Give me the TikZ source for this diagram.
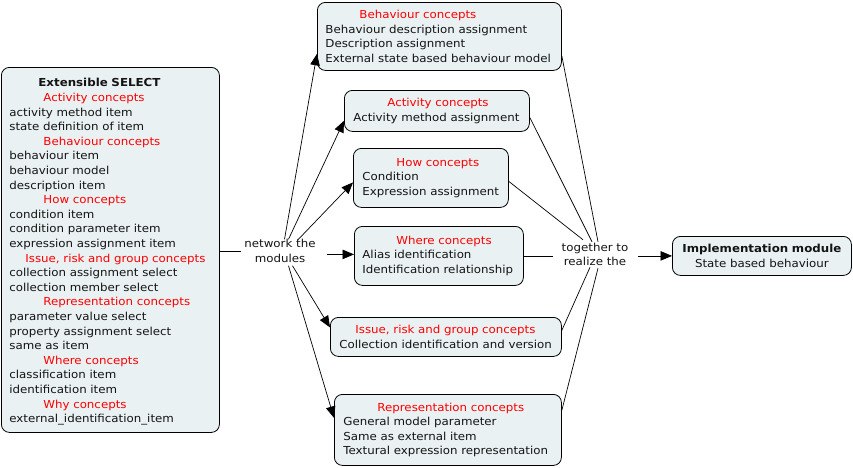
\documentclass[tikz,border=0pt]{standalone}
\usepackage{fontspec}
\setmainfont{DejaVu Sans}[FakeStretch=1.075]
\usetikzlibrary{arrows.meta}
\definecolor{boxfill}{RGB}{233,241,243}
\definecolor{headred}{RGB}{255,0,0}
\definecolor{txt}{RGB}{20,20,20}
\newcommand{\hd}[1]{\hspace*{34pt}\textcolor{headred}{#1}}
\newcommand{\hdi}[1]{\hspace*{16pt}\textcolor{headred}{#1}}
\begin{document}
\begin{tikzpicture}[x=1pt,y=-1pt,
  every node/.style={font=\fontsize{11}{14.6}\selectfont, text=txt},
  box/.style={draw=black, line width=0.8pt, fill=boxfill, rounded corners=8pt, anchor=north west, align=left, inner ysep=0pt},
  lbl/.style={align=center, inner sep=0pt},
  arr/.style={-{Triangle[length=11.5pt,width=9.5pt]}, line width=0.7pt},
  ln/.style={line width=0.7pt}]
\useasboundingbox (0,0) rectangle (853,467);

\node[box, minimum width=218pt, minimum height=365pt, text width=202pt, inner xsep=8pt] (sel) at (1,67) {%
\rule{0pt}{12.2pt}\hspace*{29pt}\textbf{Extensible SELECT}\\
\hd{Activity concepts}\\
activity method item\\
state definition of item\\
\hd{Behaviour concepts}\\
behaviour item\\
behaviour model\\
description item\\
\hd{How concepts}\\
condition item\\
condition parameter item\\
expression assignment item\\
\hdi{Issue, risk and group concepts}\\
collection assignment select\\
collection member select\\
\hd{Representation concepts}\\
parameter value select\\
property assignment select\\
same as item\\
\hd{Where concepts}\\
classification item\\
identification item\\
\hd{Why concepts}\\
external\_identification\_item};

\node[box, minimum width=244pt, minimum height=68pt, text width=228pt, inner xsep=8pt] (beh) at (317,2) {%
\hd{Behaviour concepts}\\
\mbox{Behaviour description assignment}\\
\mbox{Description assignment}\\
\mbox{External state based behaviour model}};

\node[box, minimum width=185pt, minimum height=41pt, text width=167pt, inner xsep=9pt] (act) at (344,90) {%
\hd{Activity concepts}\\
\mbox{Activity method assignment}};

\node[box, minimum width=155pt, minimum height=59pt, text width=137pt, inner xsep=9pt] (how) at (353,148) {%
\hd{How concepts}\\
Condition\\
\mbox{Expression assignment}};

\node[box, minimum width=169pt, minimum height=59pt, text width=153pt, inner xsep=8pt] (whr) at (354,226) {%
\hd{Where concepts}\\
\mbox{Alias identification}\\
\mbox{Identification relationship}};

\node[box, minimum width=231pt, minimum height=39pt, text width=213pt, inner xsep=9pt] (iss) at (330,317) {%
\hdi{Issue, risk and group concepts}\\
\mbox{Collection identification and version}};

\node[box, minimum width=227pt, minimum height=71pt, text width=209pt, inner xsep=9pt] (rep) at (334,394) {%
\hd{Representation concepts}\\
\mbox{General model parameter}\\
\mbox{Same as external item}\\
\mbox{Textural expression representation}};

\node[box, align=center, minimum width=179pt, minimum height=39pt, text width=171pt, inner xsep=4pt] (imp) at (672,236) {%
\textbf{Implementation module}\\
State based behaviour};

\node[lbl] (net) at (280,251) {network the\\modules};
\node[lbl] (tog) at (595,254.5) {together to\\realize the};

% connectors
\draw[ln] (sel.east |- net.west) -- ([xshift=21pt]sel.east |- net.west);
\draw[arr] ([xshift=4.5pt]net.north) -- ([yshift=17pt]beh.south west);
\draw[arr] ([xshift=8.5pt]net.north) -- ([yshift=11pt]act.south west);
\draw[arr] ([xshift=17.5pt,yshift=-1pt]net.north) -- ([yshift=-4.5pt]how.west);
\draw[arr] ([xshift=-27pt,yshift=1.5pt]whr.west) -- ([yshift=1.5pt]whr.west);
\draw[arr] ([xshift=12.5pt,yshift=-3pt]net.south) -- ([yshift=9.5pt]iss.west);
\draw[arr] ([xshift=8.5pt,yshift=-3pt]net.south) -- ([yshift=12pt]rep.west);

\draw[ln] ([yshift=15pt]beh.south east) -- ([xshift=3pt,yshift=1pt]tog.north);
\draw[ln] ([yshift=-6.5pt]act.east) -- ([xshift=-3pt,yshift=1pt]tog.north);
\draw[ln] ([yshift=-3.5pt]how.east) -- ([xshift=-12pt,yshift=3pt]tog.north);
\draw[ln] (whr.east) -- ([xshift=29pt]whr.east);
\draw[ln] ([yshift=6.5pt]iss.east) -- ([xshift=-5pt,yshift=-1pt]tog.south);
\draw[ln] ([yshift=19.5pt]rep.east) -- ([xshift=3pt,yshift=-2pt]tog.south);
\draw[arr] ([xshift=-34pt]imp.west) -- (imp.west);
\end{tikzpicture}
\end{document}
